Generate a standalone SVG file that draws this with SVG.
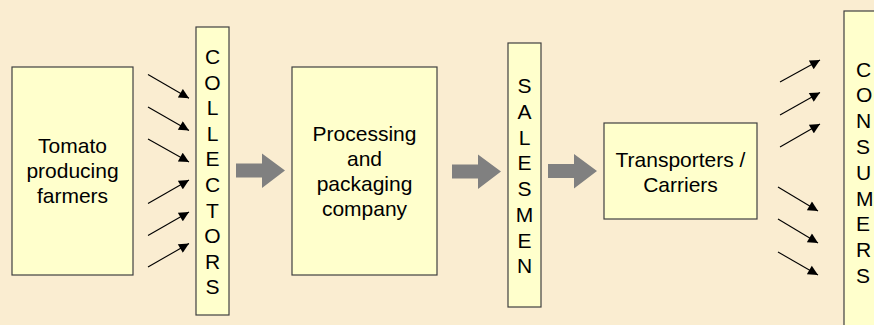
<svg xmlns="http://www.w3.org/2000/svg" width="874" height="325" viewBox="0 0 874 325">
  <style>
    .box { fill: #FFFFCC; stroke: #404040; stroke-width: 1.2; }
    .t { font-family: "Liberation Sans", Arial, sans-serif; font-size: 21px; fill: #000; text-anchor: middle; }
    .tl { font-family: "Liberation Sans", Arial, sans-serif; font-size: 21px; fill: #000; text-anchor: start; }
    .ln { stroke: #000; stroke-width: 1.1; fill: none; marker-end: url(#ah); }
    .blk { fill: #808080; }
  </style>
  <defs>
    <marker id="ah" viewBox="0 0 10 10" refX="10" refY="5" markerWidth="12" markerHeight="10" markerUnits="userSpaceOnUse" orient="auto">
      <path d="M0,0 L10,5 L0,10 z" fill="#000"/>
    </marker>
  </defs>
  <rect x="0" y="0" width="874" height="325" fill="#FAEDD1"/>

  <g id="farmers">
    <rect class="box" x="12" y="67" width="121" height="208"/>
    <text class="t" x="72.5" y="153">Tomato</text>
    <text class="t" x="72.5" y="178">producing</text>
    <text class="t" x="72.5" y="203">farmers</text>
  </g>

  <g id="collectors">
    <rect class="box" x="196" y="27" width="33" height="288"/>
    <text class="t" x="212.5" y="64">C</text>
    <text class="t" x="212.5" y="89.6">O</text>
    <text class="t" x="212.5" y="115.2">L</text>
    <text class="t" x="212.5" y="140.8">L</text>
    <text class="t" x="212.5" y="166.4">E</text>
    <text class="t" x="212.5" y="192">C</text>
    <text class="t" x="212.5" y="217.6">T</text>
    <text class="t" x="212.5" y="243.2">O</text>
    <text class="t" x="212.5" y="268.8">R</text>
    <text class="t" x="212.5" y="294.4">S</text>
  </g>

  <g id="processing">
    <rect class="box" x="292" y="67" width="145" height="208"/>
    <text class="t" x="364.5" y="140.5">Processing</text>
    <text class="t" x="364.5" y="165.8">and</text>
    <text class="t" x="364.5" y="191.1">packaging</text>
    <text class="t" x="364.5" y="216.4">company</text>
  </g>

  <g id="salesmen">
    <rect class="box" x="508" y="43" width="33" height="264"/>
    <text class="t" x="524.5" y="93.3">S</text>
    <text class="t" x="524.5" y="119">A</text>
    <text class="t" x="524.5" y="144.7">L</text>
    <text class="t" x="524.5" y="170.4">E</text>
    <text class="t" x="524.5" y="196.1">S</text>
    <text class="t" x="524.5" y="221.8">M</text>
    <text class="t" x="524.5" y="247.5">E</text>
    <text class="t" x="524.5" y="273.2">N</text>
  </g>

  <g id="transporters">
    <rect class="box" x="604" y="123" width="153" height="96"/>
    <text class="t" x="680.5" y="166.5">Transporters /</text>
    <text class="t" x="680.5" y="191.7">Carriers</text>
  </g>

  <g id="consumers">
    <rect class="box" x="844" y="11" width="40" height="320"/>
    <text class="tl" x="856" y="76.5">C</text>
    <text class="tl" x="856" y="102.3">O</text>
    <text class="tl" x="856" y="128.1">N</text>
    <text class="tl" x="856" y="153.9">S</text>
    <text class="tl" x="856" y="179.7">U</text>
    <text class="tl" x="856" y="205.5">M</text>
    <text class="tl" x="856" y="231.3">E</text>
    <text class="tl" x="856" y="257.1">R</text>
    <text class="tl" x="856" y="282.9">S</text>
  </g>

  <g id="connectors">
    <line class="ln" x1="148" y1="74.5" x2="189" y2="98.3"/>
    <line class="ln" x1="148" y1="107" x2="189" y2="130.5"/>
    <line class="ln" x1="148" y1="139" x2="189" y2="162"/>
    <line class="ln" x1="148" y1="203.5" x2="189" y2="180"/>
    <line class="ln" x1="148" y1="235.5" x2="189" y2="212"/>
    <line class="ln" x1="148" y1="267" x2="189" y2="243.5"/>

    <path class="blk" d="M236,163.5 H262 V153.5 L285,170.5 L262,188 V177.5 H236 Z"/>
    <path class="blk" d="M452,164.5 H478 V154.5 L501,171.5 L478,189 V178.5 H452 Z"/>
    <path class="blk" d="M548,164 H574 V154 L597,171 L574,188.5 V178 H548 Z"/>

    <line class="ln" x1="780" y1="82" x2="820" y2="60"/>
    <line class="ln" x1="780" y1="115" x2="820" y2="92.5"/>
    <line class="ln" x1="780" y1="147" x2="820" y2="124"/>
    <line class="ln" x1="778" y1="187" x2="818" y2="211"/>
    <line class="ln" x1="778" y1="219" x2="818" y2="243"/>
    <line class="ln" x1="778" y1="252" x2="818" y2="275"/>
  </g>
</svg>
